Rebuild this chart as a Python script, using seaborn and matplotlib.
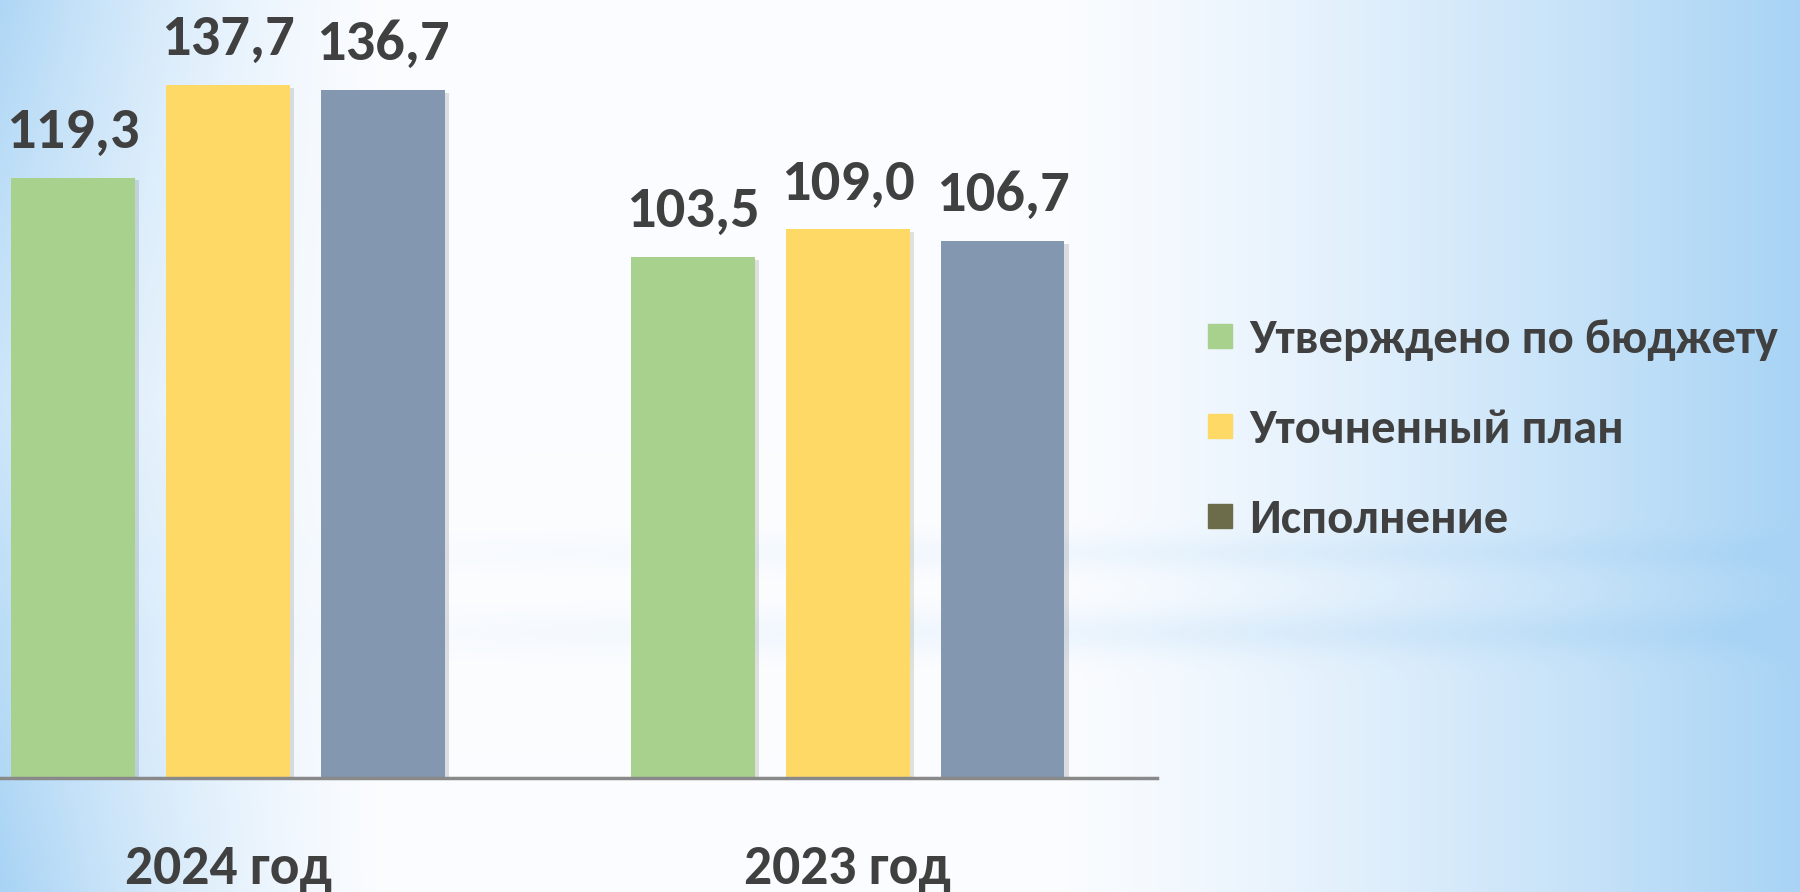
import matplotlib
matplotlib.use("Agg")
import matplotlib.pyplot as plt
import matplotlib.patheffects as pe
from matplotlib.lines import Line2D
import numpy as np
import pandas as pd
import seaborn as sns

# Данные
годы = ["2024 год", "2023 год"]
серии = ["Утверждено по бюджету", "Уточненный план", "Исполнение"]
утверждено = [119.3, 103.5]
уточнено = [137.7, 109.0]
исполнение = [136.7, 106.7]

цвета_столбцов = ["#A9D18E", "#FFD966", "#8497B0"]
цвета_легенды = ["#A9D18E", "#FFD966", "#6C6B4A"]
ТЕКСТ = "#404040"

df = pd.DataFrame({
    "год": годы * 3,
    "серия": [серии[0]] * 2 + [серии[1]] * 2 + [серии[2]] * 2,
    "значение": утверждено + уточнено + исполнение,
})

sns.set_style("white")
plt.rcParams["font.family"] = ["Carlito", "Open Sans Condensed", "DejaVu Sans"]
plt.rcParams["font.weight"] = "bold"

fig = plt.figure(figsize=(18, 8.92), dpi=100)

# Фон: голубой градиент по краям
bg = fig.add_axes([0, 0, 1, 1], zorder=-10)
h, w = 300, 600
xx, yy = np.meshgrid(np.linspace(0, 1, w), np.linspace(0, 1, h))
left = np.clip(1 - xx / 0.22, 0, 1) ** 1.5 * (0.55 + 0.45 * np.abs(yy - 0.45) / 0.55)
right = np.clip((xx - 0.58) / 0.42, 0, 1) ** 1.3
bands = 0.15 * np.exp(-((yy - 0.62) / 0.02) ** 2) + 0.2 * np.exp(-((yy - 0.71) / 0.025) ** 2)
bands *= np.clip((xx - 0.1) / 0.6, 0.1, 1)
k = np.clip(left + right + bands * (1 - right * 0.5), 0, 1)
white = np.array([0.985, 0.99, 1.0])
blue = np.array([0.66, 0.83, 0.96])
img = white + k[..., None] * (blue - white)
bg.imshow(img, aspect="auto", extent=[0, 1, 0, 1], origin="upper")
bg.axis("off")

ax = fig.add_axes([0, 0.128, 0.643, 0.846])
ax.patch.set_alpha(0)
sns.barplot(data=df, x="год", y="значение", hue="серия", order=годы, hue_order=серии,
            palette=цвета_столбцов, width=0.75, gap=0.2, errorbar=None, legend=False,
            saturation=1, ax=ax)

for i, cont in enumerate(ax.containers):
    for bar in cont:
        bar.set_edgecolor("none")
        bar.set_path_effects([pe.SimplePatchShadow(offset=(3, -2), alpha=0.15), pe.Normal()])
    подписи = [f"{v:.1f}".replace(".", ",") for v in cont.datavalues]
    ax.bar_label(cont, labels=подписи, padding=15, fontsize=42, fontweight="bold", color=ТЕКСТ)

ax.set_xlim(-0.368, 1.50)
ax.set_ylim(0, 150)
ax.set_xlabel("")
ax.set_ylabel("")
ax.set_yticks([])
for s in ["left", "right", "top"]:
    ax.spines[s].set_visible(False)
ax.spines["bottom"].set_color("#898989")
ax.spines["bottom"].set_linewidth(2.5)
ax.tick_params(axis="x", length=0, pad=48, labelsize=40, labelcolor=ТЕКСТ)

handles = [Line2D([], [], marker="s", linestyle="none", markersize=17,
                  markerfacecolor=c, markeredgecolor=c) for c in цвета_легенды]
fig.legend(handles, серии, loc="upper left", bbox_to_anchor=(0.66, 0.664),
           frameon=False, fontsize=35, labelcolor=ТЕКСТ, handletextpad=0.36,
           labelspacing=0.98, borderaxespad=0, handlelength=0.5)

fig.savefig("out.png", dpi=100)
